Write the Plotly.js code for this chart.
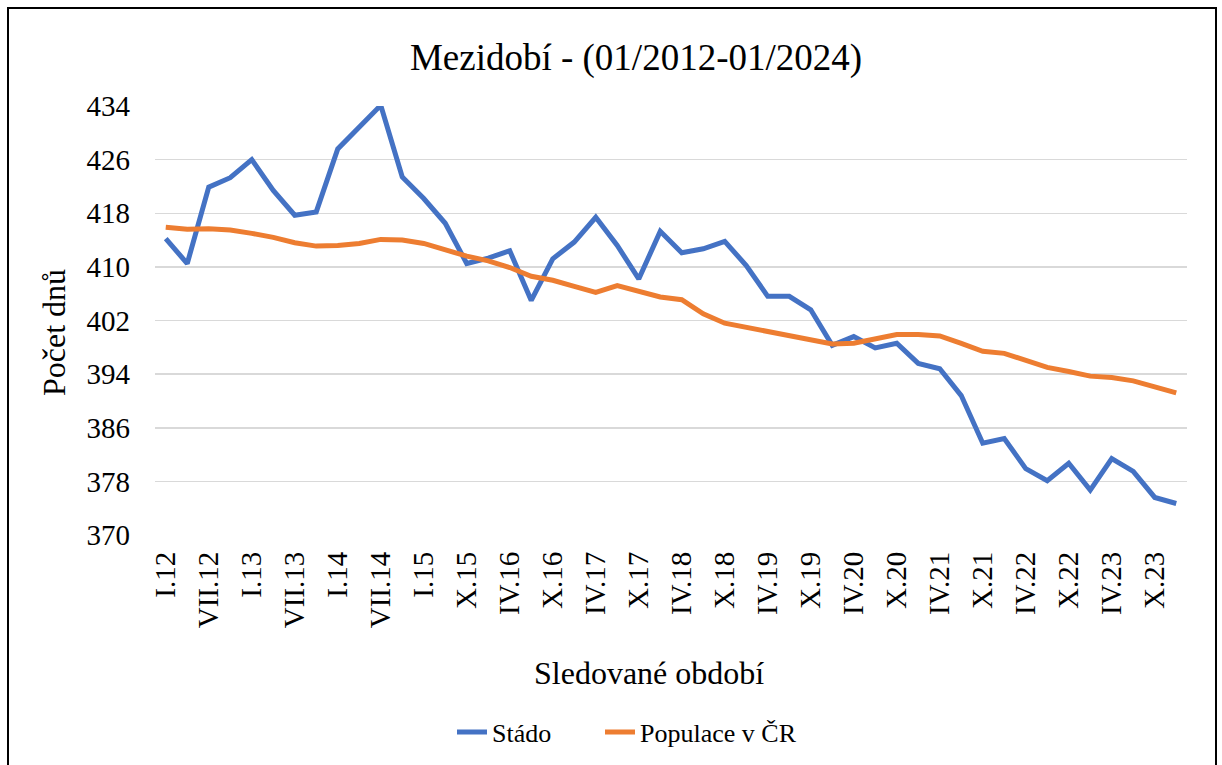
<!DOCTYPE html>
<html>
<head>
<meta charset="utf-8">
<script src="https://cdn.plot.ly/plotly-3.0.1.min.js"></script>
<style>
html,body{margin:0;padding:0;background:#fff;}
#chart{width:1222px;height:765px;}
</style>
</head>
<body>
<div id="chart"></div>
<script>
const categories = [
  "I.12","IV.12","VII.12","X.12",
  "I.13","IV.13","VII.13","X.13",
  "I.14","IV.14","VII.14","X.14",
  "I.15","V.15","X.15",
  "I.16","IV.16","VII.16","X.16",
  "I.17","IV.17","VII.17","X.17",
  "I.18","IV.18","VII.18","X.18",
  "I.19","IV.19","VII.19","X.19",
  "I.20","IV.20","VII.20","X.20",
  "I.21","IV.21","VII.21","X.21",
  "I.22","IV.22","VII.22","X.22",
  "I.23","IV.23","VII.23","X.23",
  "I.24"
];
const tickLabels = [
  "I.12","VII.12","I.13","VII.13","I.14","VII.14","I.15","X.15",
  "IV.16","X.16","IV.17","X.17","IV.18","X.18","IV.19","X.19",
  "IV.20","X.20","IV.21","X.21","IV.22","X.22","IV.23","X.23"
];
const yTicks = [370, 378, 386, 394, 402, 410, 418, 426, 434];
const stado = [
  414.2, 410.5, 421.9, 423.3,
  426.0, 421.4, 417.7, 418.2,
  427.6, 430.9, 434.1, 423.4,
  420.2, 416.5, 410.5,
  411.3, 412.4, 405.0, 411.2,
  413.7, 417.4, 413.2, 408.2,
  415.3, 412.1, 412.7, 413.8,
  410.2, 405.6, 405.6, 403.6,
  398.3, 399.6, 397.9, 398.6,
  395.6, 394.8, 390.8, 383.7,
  384.4, 379.9, 378.1, 380.7,
  376.7, 381.4, 379.5, 375.6,
  374.7
];
const populace = [
  415.9, 415.6, 415.7, 415.5,
  415.0, 414.4, 413.6, 413.1,
  413.2, 413.5, 414.1, 414.0,
  413.5, 412.6, 411.6,
  410.9, 409.9, 408.6, 408.0,
  407.1, 406.2, 407.2, 406.3,
  405.5, 405.1, 403.0, 401.6,
  401.0, 400.3, 399.8, 399.1,
  398.5, 398.6, 399.3, 399.9,
  399.9, 399.7, 398.6, 397.4,
  397.1, 396.0, 395.0, 394.4,
  393.7, 393.5, 393.0, 392.1,
  391.2
];

const FONT = 'Liberation Serif, Times New Roman, serif';

const traces = [
  {
    x: categories, y: stado, type: 'scatter', mode: 'lines', name: 'Stádo',
    line: {color: '#4472C4', width: 5, shape: 'linear'},
    legend: 'legend'
  },
  {
    x: categories, y: populace, type: 'scatter', mode: 'lines', name: 'Populace v ČR',
    line: {color: '#ED7D31', width: 5, shape: 'linear'},
    legend: 'legend2'
  }
];

const L = 155, R = 35, T = 106, B = 230;
const W = 1222, H = 765;
const pw = W - L - R, ph = H - T - B;
const plotBottom = H - B;

const legendBase = {
  orientation: 'h', xanchor: 'left', xref: 'container',
  y: 1 - 732 / H, yanchor: 'middle', yref: 'container',
  font: {family: FONT, size: 26, color: '#000'},
  bgcolor: 'rgba(0,0,0,0)'
};

const layout = {
  width: W, height: H,
  margin: {l: L, r: R, t: T, b: B, pad: 0},
  paper_bgcolor: '#fff', plot_bgcolor: '#fff',
  font: {family: FONT, color: '#000'},
  title: {
    text: 'Mezidobí - (01/2012-01/2024)',
    font: {family: FONT, size: 37, color: '#000'},
    x: 636 / W, xanchor: 'center', xref: 'container',
    y: 1 - 57 / H, yanchor: 'middle', yref: 'container'
  },
  xaxis: {
    type: 'category',
    categoryorder: 'array', categoryarray: categories,
    tickmode: 'array', tickvals: tickLabels, ticktext: tickLabels,
    tickangle: -90,
    tickfont: {family: FONT, size: 29, color: '#000'},
    ticks: '', showgrid: false, zeroline: false,
    showline: false,
    ticklabelstandoff: 10,
    range: [-0.5, categories.length - 0.5],
    automargin: false
  },
  yaxis: {
    range: [370, 434],
    tickmode: 'array', tickvals: yTicks, ticktext: yTicks.map(String),
    tickfont: {family: FONT, size: 29, color: '#000'},
    ticks: '', showgrid: true, gridcolor: '#D9D9D9', gridwidth: 1.5,
    zeroline: false, showline: false,
    ticklabelstandoff: 24,
    automargin: false
  },
  annotations: [
    {
      text: 'Sledované období', showarrow: false,
      xref: 'paper', yref: 'paper',
      x: (649 - L) / pw, y: (plotBottom - 673) / ph,
      xanchor: 'center', yanchor: 'middle',
      font: {family: FONT, size: 32, color: '#000'}
    },
    {
      text: 'Počet dnů', showarrow: false, textangle: -90,
      xref: 'paper', yref: 'paper',
      x: (54 - L) / pw, y: (plotBottom - 333) / ph,
      xanchor: 'center', yanchor: 'middle',
      font: {family: FONT, size: 32, color: '#000'}
    }
  ],
  showlegend: true,
  legend: Object.assign({}, legendBase, {x: 452 / W}),
  legend2: Object.assign({}, legendBase, {x: 600 / W}),
  shapes: [{
    type: 'rect', xref: 'paper', yref: 'paper',
    x0: (8 - L) / pw, x1: (1216 - L) / pw,
    y0: (plotBottom - 780) / ph, y1: (plotBottom - 8) / ph,
    line: {color: '#000', width: 2}, fillcolor: 'rgba(0,0,0,0)', layer: 'below'
  }]
};

Plotly.newPlot('chart', traces, layout, {displayModeBar: false, staticPlot: true});
</script>
</body>
</html>
